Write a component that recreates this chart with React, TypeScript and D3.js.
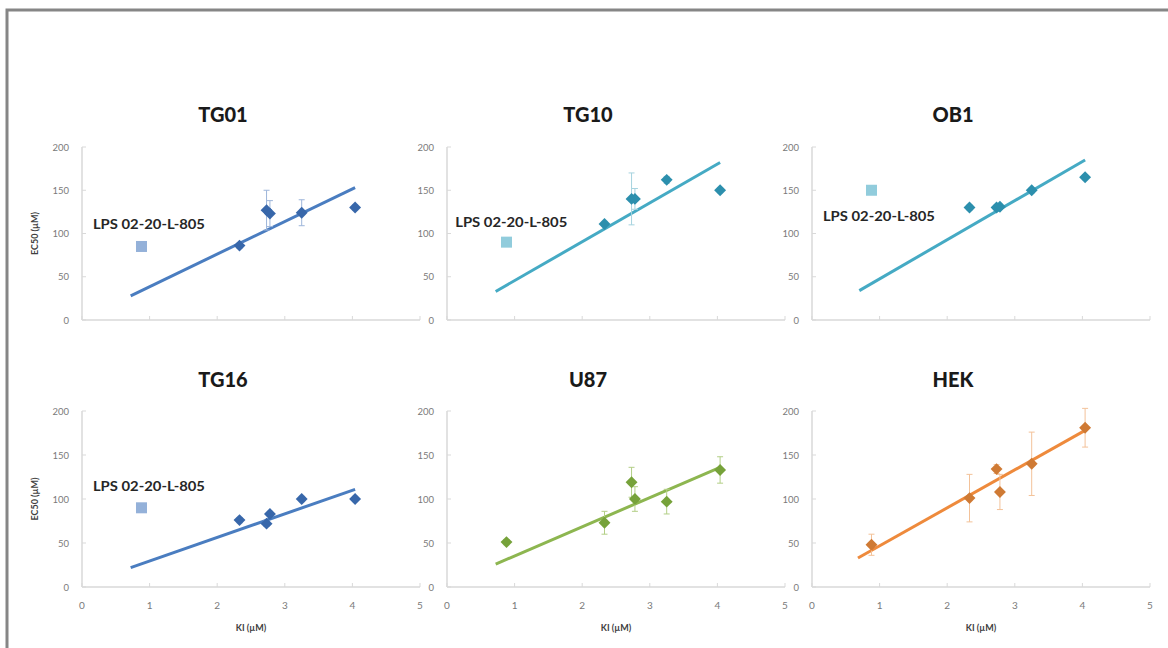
import React from "react";
import * as d3 from "d3";

// ---------- DATA ----------
const xTicks = [0, 1, 2, 3, 4, 5];
const yTicks = [0, 50, 100, 150, 200];
const panelNames = ["TG01", "TG10", "OB1", "TG16", "U87", "HEK"];
const lpsLabel = "LPS 02-20-L-805";

// Ki (µM) values of compounds
const kiMain = [2.33, 2.73, 2.78, 3.25, 4.04];
const kiAll = [0.88, 2.33, 2.73, 2.78, 3.25, 4.04];

// EC50 (µM) values
const tg01EC50 = [86, 127, 123, 124, 130];
const tg01Err = [3, 23, 15, 15, 3];
const tg01Lps = [0.88, 85];
const tg01Trend = [[0.72, 28], [4.04, 153]];

const tg10EC50 = [111, 140, 140, 162, 150];
const tg10Err = [3, 30, 12, 4, 3];
const tg10Lps = [0.88, 90];
const tg10Trend = [[0.72, 33], [4.04, 182]];

const ob1EC50 = [130, 130, 131, 150, 165];
const ob1Err = [3, 3, 3, 3, 3];
const ob1Lps = [0.88, 150];
const ob1Trend = [[0.7, 34], [4.04, 185]];

const tg16EC50 = [76, 72, 83, 100, 100];
const tg16Err = [3, 3, 3, 3, 3];
const tg16Lps = [0.88, 90];
const tg16Trend = [[0.72, 22], [4.04, 111]];

const u87EC50 = [51, 73, 119, 100, 97, 133];
const u87Err = [3, 13, 17, 14, 14, 15];
const u87Trend = [[0.72, 26], [4.04, 136]];

const hekEC50 = [48, 101, 134, 108, 140, 181];
const hekErr = [12, 27, 5, 20, 36, 22];
const hekTrend = [[0.68, 33], [4.04, 178]];

// LPS label anchor (data coords)
const lpsLabelPos = [[0.99, 110], [0.95, 113], [0.99, 120], [0.99, 114]];

// ---------- STYLE ----------
const blue = { pt: "#3867AA", line: "#4A7DC0", sq: "#94B1D9", err: "#9db5da" };
const teal = { pt: "#2C8FAD", line: "#45AAC4", sq: "#91CCDC", err: "#a6d3df" };
const green = { pt: "#76A23A", line: "#8DB650", sq: "#b5d08a", err: "#b3cf86" };
const orange = { pt: "#CF7A34", line: "#EE8A3C", sq: "#f5b98a", err: "#f3c299" };

const panels = [
  { x: kiMain, y: tg01EC50, e: tg01Err, lps: tg01Lps, trend: tg01Trend, c: blue },
  { x: kiMain, y: tg10EC50, e: tg10Err, lps: tg10Lps, trend: tg10Trend, c: teal },
  { x: kiMain, y: ob1EC50, e: ob1Err, lps: ob1Lps, trend: ob1Trend, c: teal },
  { x: kiMain, y: tg16EC50, e: tg16Err, lps: tg16Lps, trend: tg16Trend, c: blue },
  { x: kiAll, y: u87EC50, e: u87Err, lps: null, trend: u87Trend, c: green },
  { x: kiAll, y: hekEC50, e: hekErr, lps: null, trend: hekTrend, c: orange },
];

const colX = [82, 447, 812];
const plotW = 338;
const rowY = [
  { top: 147, bottom: 320 },
  { top: 411, bottom: 587 },
];

const FONT = "Lato, 'Open Sans', 'Liberation Sans', sans-serif";

function Panel({ idx }: { idx: number }) {
  const p = panels[idx];
  const col = idx % 3;
  const row = Math.floor(idx / 3);
  const x0 = colX[col];
  const { top, bottom } = rowY[row];
  const xs = d3.scaleLinear().domain([0, 5]).range([x0, x0 + plotW]);
  const ys = d3.scaleLinear().domain([0, 200]).range([bottom, top]);
  const axisColor = "#d9d9d9";
  const tickColor = "#7a7a7a";
  const diamond = d3.symbol().type(d3.symbolDiamond2).size(90)() as string;
  const line = d3
    .line<number[]>()
    .x((d) => xs(d[0]))
    .y((d) => ys(d[1]));

  return (
    <g>
      {/* title */}
      <text
        x={x0 + 141}
        y={row === 0 ? 122 : 387}
        textAnchor="middle"
        fontFamily={FONT}
        fontWeight="900"
        fontSize={20}
        fill="#1a1a1a"
      >
        {panelNames[idx]}
      </text>
      {/* axes */}
      <line x1={x0} x2={x0} y1={top} y2={bottom} stroke={axisColor} strokeWidth={1.5} />
      <line x1={x0} x2={x0 + plotW} y1={bottom} y2={bottom} stroke={axisColor} strokeWidth={1.5} />
      {yTicks.map((t) => (
        <g key={"y" + t}>
          <line x1={x0} x2={x0 + 4} y1={ys(t)} y2={ys(t)} stroke={axisColor} strokeWidth={1} />
          <text
            x={x0 - 13}
            y={ys(t) + 3.5}
            textAnchor="end"
            fontFamily={FONT}
            fontSize={9.5}
            fill={tickColor}
          >
            {t}
          </text>
        </g>
      ))}
      {xTicks.map((t) => (
        <g key={"x" + t}>
          <line x1={xs(t)} x2={xs(t)} y1={bottom} y2={bottom - 4} stroke={axisColor} strokeWidth={1} />
          {row === 1 && (
            <text
              x={xs(t)}
              y={bottom + 22}
              textAnchor="middle"
              fontFamily={FONT}
              fontSize={10}
              fill={tickColor}
            >
              {t}
            </text>
          )}
        </g>
      ))}
      {row === 1 && (
        <text
          x={x0 + plotW / 2}
          y={bottom + 44}
          textAnchor="middle"
          fontFamily={FONT}
          fontWeight="bold"
          fontSize={9}
          fill="#404040"
        >
          KI (µM)
        </text>
      )}
      {col === 0 && (
        <text
          transform={`translate(38,${(top + bottom) / 2}) rotate(-90)`}
          textAnchor="middle"
          fontFamily={FONT}
          fontWeight="bold"
          fontSize={9}
          fill="#404040"
        >
          EC50 (µM)
        </text>
      )}
      {/* trendline */}
      <path d={line(p.trend) || ""} stroke={p.c.line} strokeWidth={3} fill="none" />
      {/* error bars */}
      {p.x.map((xv, i) => {
        const cx = xs(xv);
        const y1 = ys(p.y[i] + p.e[i]);
        const y2 = ys(p.y[i] - p.e[i]);
        return (
          <g key={"e" + i} stroke={p.c.err} strokeWidth={1}>
            <line x1={cx} x2={cx} y1={y1} y2={y2} />
            <line x1={cx - 3} x2={cx + 3} y1={y1} y2={y1} />
            <line x1={cx - 3} x2={cx + 3} y1={y2} y2={y2} />
          </g>
        );
      })}
      {/* points */}
      {p.x.map((xv, i) => (
        <path
          key={"p" + i}
          d={diamond}
          transform={`translate(${xs(xv)},${ys(p.y[i])})`}
          fill={p.c.pt}
        />
      ))}
      {/* LPS */}
      {p.lps && (
        <g>
          <rect
            x={xs(p.lps[0]) - 5.5}
            y={ys(p.lps[1]) - 5.5}
            width={11}
            height={11}
            fill={p.c.sq}
          />
          <text
            x={xs(lpsLabelPos[idx][0])}
            y={ys(lpsLabelPos[idx][1]) + 4.5}
            textAnchor="middle"
            fontFamily={FONT}
            fontWeight="bold"
            fontSize={12.5}
            fill="#262626"
            textLength={112}
            lengthAdjust="spacingAndGlyphs"
          >
            {lpsLabel}
          </text>
        </g>
      )}
    </g>
  );
}

export default function App() {
  return (
    <svg
      width={1168}
      height={648}
      style={{ position: "absolute", left: 0, top: 0, background: "#fff" }}
    >
      <rect x={0} y={0} width={1168} height={648} fill="#fff" />
      <rect x={7} y={10} width={1200} height={700} fill="none" stroke="#868686" strokeWidth={3} />
      {panels.map((_, i) => (
        <Panel key={i} idx={i} />
      ))}
    </svg>
  );
}
